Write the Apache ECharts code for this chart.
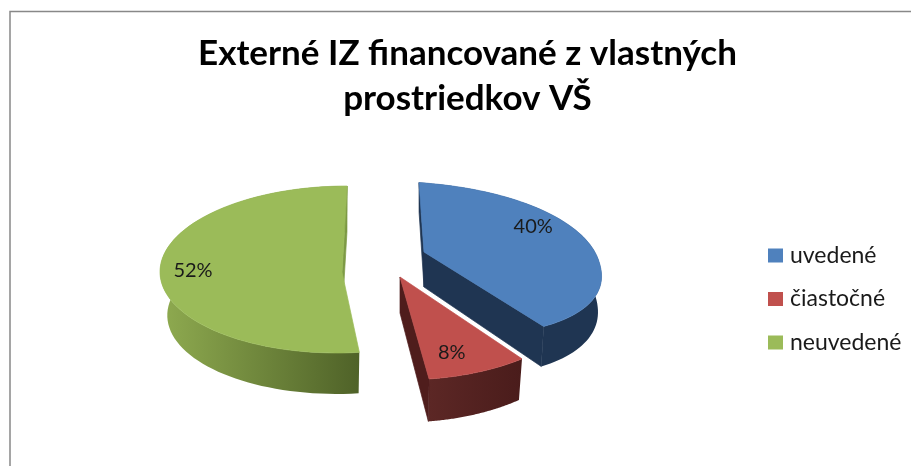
<!DOCTYPE html>
<html><head><meta charset="utf-8">
<style>html,body{margin:0;padding:0;background:#fff}#c{width:911px;height:466px}</style>
<script src="https://cdn.jsdelivr.net/npm/echarts@6/dist/echarts.min.js"></script>
</head><body><div id="c"></div>
<script>
const titleLines = ['Externé IZ financované z vlastných', 'prostriedkov VŠ'];
const categories = ['uvedené', 'čiastočné', 'neuvedené'];
const percents = [40, 8, 52];

// Look of each exploded slice: projection of a tilted disc (not data)
const looks = [
  {cx:424,cy:252,a:176,b:75,s:-5.4,t:13,p:.08,q:.93,d:35,k:.98,lr:.65,lx:3,ly:-17,cuts:[0,1],top:'#4F81BD',cut:'#1F3552',w0:'#1F3552',w1:'#1F3552'},
  {cx:400,cy:277,a:190,b:94.6,s:-3,t:0,p:.08,q:1,d:36,k:.975,lr:.75,lx:-6,ly:6,cuts:[1],top:'#C0504D',cut:'#4F1D1C',w0:'#5C2725',w1:'#4A1C1B'},
  {cx:342,cy:272,a:182,b:83.4,s:5,t:0,p:-.03,q:1,d:43.5,k:.96,lr:.82,lx:0,ly:-6,cuts:[1],top:'#9BBB59',cut:'#7D9A45',w0:'#8FAB50',w1:'#4F6228'}
];
const total = percents.reduce((x, y) => x + y, 0);
const starts = percents.map((_, i) => percents.slice(0, i).reduce((x, y) => x + y, 0) / total * 360);

function project(L, deg, r, drop) {
  const th = deg * Math.PI / 180;
  const sr = Math.sin(th), cr = Math.cos(th);
  const sn = Math.sign(sr) * Math.pow(Math.abs(sr), L.q) * r;
  const cs = Math.sign(cr) * Math.pow(Math.abs(cr), L.q) * r;
  const w = 1 + L.p * cs;
  const kx = drop ? L.k : 1;
  return [L.cx + kx * (L.a * sn + L.s * cs) / w,
          L.cy + (-L.b * cs + L.t * sn) / w + (drop ? L.d / (w * w) : 0)];
}
function renderSlice(i) {
  return function (params, api) {
    const L = looks[i], value = api.value(0);
    const a0 = starts[i], a1 = a0 + value / total * 360;
    const arc = [], low = [];
    for (let k = 0; k <= 72; k++) {
      const deg = a0 + (a1 - a0) * k / 72;
      arc.push(project(L, deg, 1, false));
      low.push(project(L, deg, 1, true));
    }
    const apex = project(L, 0, 0, false), apexLow = project(L, 0, 0, true);
    const xs = arc.map(q => q[0]);
    const grad = {type:'linear', global:true, x:Math.min(...xs), y:0, x2:Math.max(...xs), y2:0,
      colorStops:[{offset:0,color:L.w0},{offset:1,color:L.w1}]};
    const poly = (pts, fill, seam) => ({type:'polygon', silent:true, shape:{points:pts},
      style:{fill:fill, stroke:seam ? fill : null, lineWidth:seam ? 0.7 : 0}});
    const mid = project(L, (a0 + a1) / 2, L.lr, false);
    const ends = [[arc[0], low[0]], [arc[72], low[72]]];
    return {type:'group', children:[
      poly(arc.concat(low.slice().reverse()), grad, false),
      ...L.cuts.map(c => poly([ends[c][0], apex, apexLow, ends[c][1]], L.cut, true)),
      poly([apex].concat(arc), L.top, true),
      {type:'text', silent:true, style:{x:mid[0] + L.lx, y:mid[1] + L.ly, text:value + '%', align:'center', verticalAlign:'middle',
        fontFamily:'Lato', fontSize:20, fill:'#1a1a1a'}}
    ]};
  };
}
const chart = echarts.init(document.getElementById('c'), null, {renderer:'canvas'});
chart.setOption({
  animation:false,
  backgroundColor:'#fff',
  title:{text:titleLines.join('\n'), left:462.5, top:26, textAlign:'center',
    textStyle:{fontFamily:'Lato', fontWeight:'bold', fontSize:35, lineHeight:45, color:'#000'}},
  legend:{orient:'vertical', left:763, top:239, itemWidth:15, itemHeight:14, itemGap:20.5,
    icon:'rect', data:categories,
    textStyle:{fontFamily:'Lato', fontSize:23, color:'#1a1a1a', padding:[0,0,0,2]}},
  graphic:[{type:'polyline', silent:true, shape:{points:[[10,466],[10,11.5],[911,11.5]]},
    style:{stroke:'#888', lineWidth:1.5, fill:null}}],
  series:categories.map((name, i) => ({
    type:'custom', name:name, coordinateSystem:'none', silent:true, clip:false,
    itemStyle:{color:looks[i].top},
    renderItem:renderSlice(i),
    data:[[percents[i]]]
  }))
});
</script></body></html>
